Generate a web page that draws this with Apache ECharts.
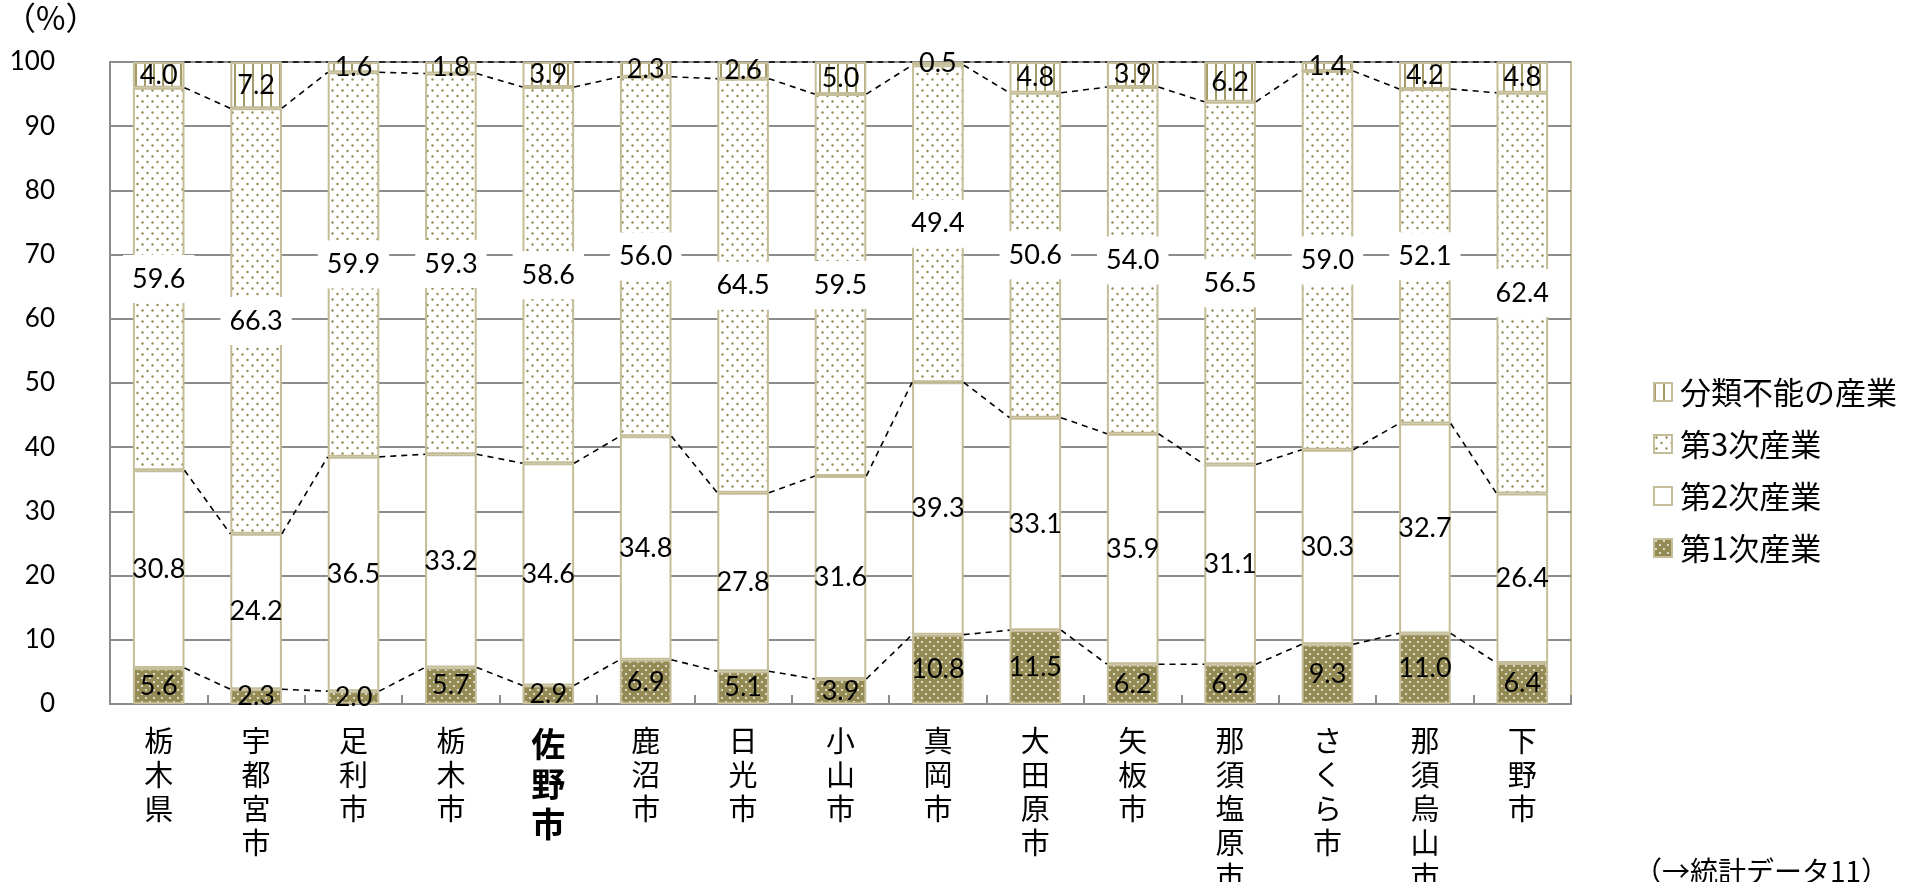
<!DOCTYPE html>
<html lang="ja">
<head>
<meta charset="utf-8">
<title>産業別就業者構成比</title>
<script src="https://cdn.jsdelivr.net/npm/echarts@6/dist/echarts.min.js"></script>
<style>
  html, body { margin: 0; padding: 0; background: #fff; }
  #chart { width: 1915px; height: 882px; }
</style>
</head>
<body>
<div id="chart"></div>
<script>
// 市町村（カテゴリ）
const categories = ['栃木県', '宇都宮市', '足利市', '栃木市', '佐野市', '鹿沼市', '日光市', '小山市',
  '真岡市', '大田原市', '矢板市', '那須塩原市', 'さくら市', '那須烏山市', '下野市'];
const highlightCity = '佐野市';

// 産業別構成比（%）
const primary   = [5.6, 2.3, 2.0, 5.7, 2.9, 6.9, 5.1, 3.9, 10.8, 11.5, 6.2, 6.2, 9.3, 11.0, 6.4];
const secondary = [30.8, 24.2, 36.5, 33.2, 34.6, 34.8, 27.8, 31.6, 39.3, 33.1, 35.9, 31.1, 30.3, 32.7, 26.4];
const tertiary  = [59.6, 66.3, 59.9, 59.3, 58.6, 56.0, 64.5, 59.5, 49.4, 50.6, 54.0, 56.5, 59.0, 52.1, 62.4];
const unclassified = [4.0, 7.2, 1.6, 1.8, 3.9, 2.3, 2.6, 5.0, 0.5, 4.8, 3.9, 6.2, 1.4, 4.2, 4.8];

const seriesNames = ['第1次産業', '第2次産業', '第3次産業', '分類不能の産業'];
const yTicks = { min: 0, max: 100, interval: 10 };

const OLIVE = '#948A54';
const TAN = '#C4BD97';
const AXIS_GRAY = '#8C8C8C';
const BAR_RATIO = 0.53;
const NUM_FONT = 'Lato, "Liberation Sans", sans-serif';
const JP_FONT = '"Noto Sans CJK JP", "Noto Sans", sans-serif';

// small canvas tiles used as repeating fills
function makePattern(w, h, bg, draw) {
  const c = document.createElement('canvas');
  c.width = w; c.height = h;
  const ctx = c.getContext('2d');
  ctx.fillStyle = bg;
  ctx.fillRect(0, 0, w, h);
  draw(ctx);
  return { image: c, repeat: 'repeat' };
}
function dots(ctx, color, pts, r) {
  ctx.fillStyle = color;
  pts.forEach(function (p) {
    ctx.beginPath();
    ctx.arc(p[0], p[1], r, 0, Math.PI * 2);
    ctx.fill();
  });
}
const fillPrimary = makePattern(8, 8, OLIVE, function (ctx) {
  dots(ctx, 'rgba(255,255,255,0.85)', [[2, 2], [6, 6]], 1.1);
});
const fillTertiary = makePattern(10, 11, '#ffffff', function (ctx) {
  dots(ctx, OLIVE, [[2.5, 2.5], [7.5, 8]], 1.2);
});
const fillUnclassified = makePattern(9, 4, '#ffffff', function (ctx) {
  ctx.fillStyle = '#A39A68';
  ctx.fillRect(0, 0, 2, 4);
});

const valueSets = [primary, secondary, tertiary, unclassified];
const fills = [fillPrimary, '#ffffff', fillTertiary, fillUnclassified];

const barSeries = valueSets.map(function (vals, k) {
  return {
    name: seriesNames[k],
    type: 'bar',
    stack: 'total',
    barWidth: (BAR_RATIO * 100) + '%',
    data: vals,
    itemStyle: { color: fills[k], borderColor: TAN, borderWidth: 2 },
    label: {
      show: true,
      position: 'inside',
      formatter: function (p) { return p.value.toFixed(1); },
      fontFamily: NUM_FONT,
      fontSize: 27,
      lineHeight: 28,
      color: '#000',
      backgroundColor: k === 2 ? '#ffffff' : 'transparent',
      padding: k === 2 ? [10, 9] : 0
    },
    z: 2
  };
});

// cumulative boundaries for the connector lines between neighbouring bars
const cumulative = categories.map(function (_, i) {
  let s = 0;
  return valueSets.map(function (vals) { s += vals[i]; return s; });
});
const connectorData = [];
for (let i = 0; i < categories.length - 1; i++) {
  connectorData.push([i].concat(cumulative[i], cumulative[i + 1]));
}

const connectorSeries = {
  type: 'custom',
  name: 'connector',
  data: connectorData,
  encode: { x: 0, y: 1 },
  silent: true,
  z: 5,
  renderItem: function (params, api) {
    const i = api.value(0);
    const band = api.size([1, 0])[0];
    const half = band * BAR_RATIO / 2;
    const x0 = api.coord([i, 0])[0] + half;
    const x1 = api.coord([i + 1, 0])[0] - half;
    const children = [];
    for (let k = 1; k <= 4; k++) {
      children.push({
        type: 'line',
        shape: {
          x1: x0, y1: api.coord([i, api.value(k)])[1],
          x2: x1, y2: api.coord([i + 1, api.value(k + 4)])[1]
        },
        style: { stroke: '#000', lineWidth: 1.6, lineDash: [6, 5] }
      });
    }
    return { type: 'group', children: children };
  }
};

const chart = echarts.init(document.getElementById('chart'), null, { renderer: 'canvas' });
chart.setOption({
  animation: false,
  backgroundColor: '#ffffff',
  grid: {
    left: 110, right: 344, top: 62, bottom: 178,
    show: true, borderColor: TAN, borderWidth: 2, backgroundColor: 'transparent',
    outerBoundsMode: 'none'
  },
  legend: {
    orient: 'vertical',
    left: 1648,
    top: 367,
    itemWidth: 18,
    itemHeight: 18,
    itemGap: 12,
    icon: 'rect',
    data: ['分類不能の産業', '第3次産業', '第2次産業', '第1次産業'],
    textStyle: {
      fontFamily: JP_FONT, fontSize: 31, lineHeight: 40, color: '#000',
      padding: [0, 0, 0, 3]
    }
  },
  xAxis: {
    type: 'category',
    data: categories,
    boundaryGap: true,
    axisLine: { lineStyle: { color: AXIS_GRAY, width: 2 } },
    axisTick: { show: true, inside: true, length: 9, lineStyle: { color: AXIS_GRAY, width: 2 } },
    axisLabel: {
      interval: 0,
      margin: 20,
      verticalAlign: 'top',
      fontFamily: JP_FONT,
      fontSize: 29,
      lineHeight: 34,
      color: '#000',
      formatter: function (v) {
        const s = v.split('').join('\n');
        return v === highlightCity ? '{hl|' + s + '}' : s;
      },
      rich: {
        hl: { fontFamily: JP_FONT, fontSize: 34, fontWeight: 'bold', lineHeight: 40, color: '#000' }
      }
    }
  },
  yAxis: {
    type: 'value',
    min: yTicks.min,
    max: yTicks.max,
    interval: yTicks.interval,
    axisLine: { show: true, lineStyle: { color: AXIS_GRAY, width: 2 } },
    axisTick: { show: false },
    splitLine: { lineStyle: { color: AXIS_GRAY, width: 2 } },
    axisLabel: { margin: 55, fontFamily: NUM_FONT, fontSize: 26, color: '#000' }
  },
  graphic: [
    {
      type: 'text', left: 4, top: 2,
      style: { text: '（%）', fontFamily: JP_FONT, fontSize: 32, fill: '#000' }
    },
    {
      type: 'text', left: 1634, top: 857,
      style: { text: '（→統計データ11）', fontFamily: JP_FONT, fontSize: 28, fill: '#000' }
    }
  ],
  series: barSeries.concat([connectorSeries])
});
</script>
</body>
</html>
